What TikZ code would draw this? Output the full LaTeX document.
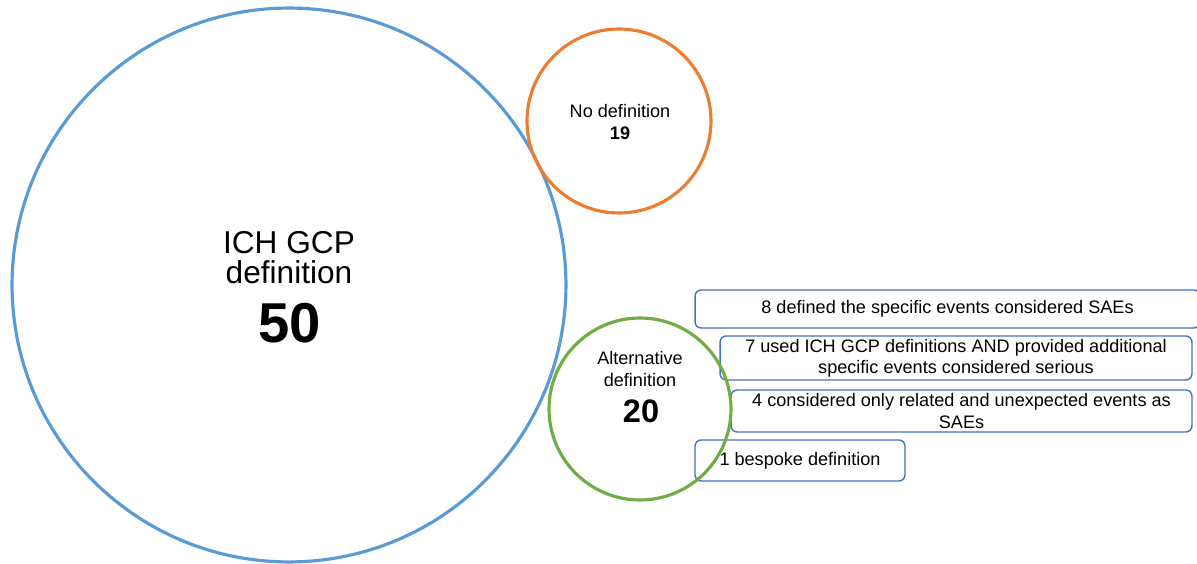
\documentclass[tikz,border=0pt]{standalone}
\usepackage{fontspec}
\setmainfont{Liberation Sans}
\usetikzlibrary{positioning}
\definecolor{RingBlue}{HTML}{5B9BD5}
\definecolor{RingOrange}{HTML}{ED7D31}
\definecolor{RingGreen}{HTML}{70AD47}
\definecolor{BoxBlue}{HTML}{4472C4}

\begin{document}
\begin{tikzpicture}[x=0.02cm,y=0.02cm, every node/.style={inner sep=0pt},
  ring/.style={circle, draw=#1, line width=1.8pt},
  subbox/.style={draw=BoxBlue, line width=0.8pt, rounded corners=3.5pt, align=center,
    font=\fontsize{10.3}{12}\selectfont}]
  \useasboundingbox (0,0) rectangle (1197,564);
  % breakdown of the alternative definitions
  \node[subbox, minimum width=10.1cm, minimum height=0.76cm] (eight) at (947.5,255) {8 defined the specific events considered SAEs};
  \node[subbox, minimum width=9.44cm, minimum height=0.88cm] (seven) at (956,206) {7 used ICH GCP definitions AND provided additional\\specific events considered serious};
  \node[subbox, minimum width=9.22cm, minimum height=0.84cm] (four) at (961.5,153) {4 considered only related and unexpected events as\\SAEs};
  \node[subbox, minimum width=4.2cm, minimum height=0.82cm] (one) at (800,103.5) {1 bespoke definition};
  % circles
  \node[ring=RingBlue, minimum size=11.08cm] (ich) at (289,279) {};
  \node[ring=RingOrange, minimum size=3.68cm] (none) at (619,443) {};
  \node[ring=RingGreen, minimum size=3.64cm] (alt) at (640,155) {};
  \node[anchor=base, font=\fontsize{18}{18}\selectfont] (ichname) at (289,310) {ICH GCP};
  \node[anchor=base, font=\fontsize{18}{18}\selectfont] (ichdef) at (289,280) {definition};
  \node[anchor=base, font=\fontsize{32}{32}\selectfont\bfseries] (ichnum) at (290,221) {50};
  \node[anchor=base, font=\fontsize{10.3}{12}\selectfont] (nonename) at (620,446) {No definition};
  \node[anchor=base, font=\fontsize{10.3}{12}\selectfont\bfseries] (nonenum) at (620,424) {19};
  \node[anchor=base, font=\fontsize{10.3}{12}\selectfont] (altname) at (640,199) {Alternative};
  \node[anchor=base, font=\fontsize{10.3}{12}\selectfont] (altdef) at (640,177) {definition};
  \node[anchor=base, font=\fontsize{18.5}{20}\selectfont\bfseries] (altnum) at (641,141) {20};
\end{tikzpicture}
\end{document}
